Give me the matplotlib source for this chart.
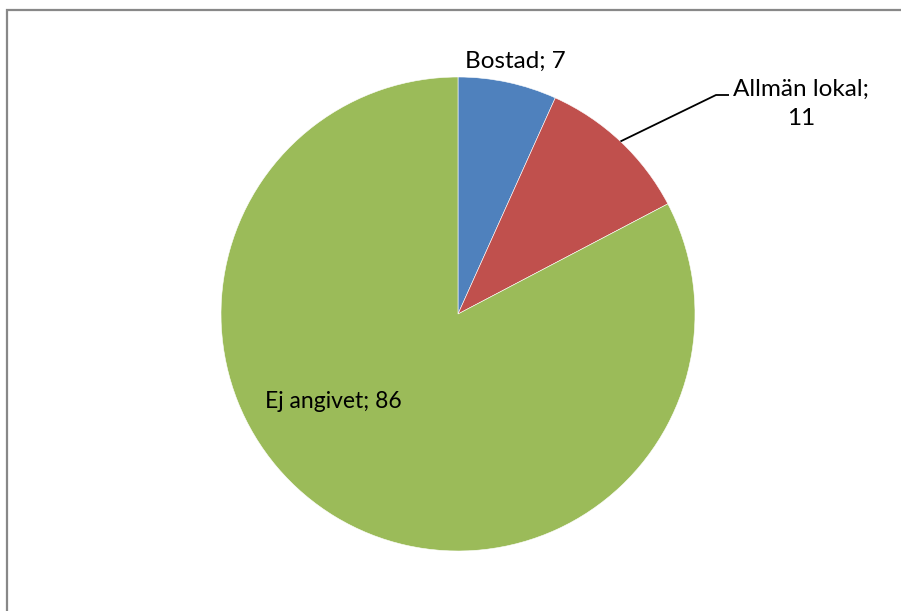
import matplotlib
import matplotlib.pyplot as plt
import numpy as np

matplotlib.use("Agg")

categories = ["Bostad", "Allmän lokal", "Ej angivet"]
values = [7, 11, 86]
colors = ["#4F81BD", "#C0504D", "#9BBB59"]

W, H = 901, 611
cx, cy, r = 458, H - 314, 237

fig = plt.figure(figsize=(W / 100, H / 100), dpi=100)
ax = fig.add_axes([0, 0, 1, 1])

wedges, _ = ax.pie(
    values,
    colors=colors,
    startangle=90,
    counterclock=False,
    center=(cx, cy),
    radius=r,
    wedgeprops={"edgecolor": "white", "linewidth": 0.4},
    frame=True,
)
ax.set_xlim(0, W)
ax.set_ylim(0, H)
ax.set_aspect("equal")
ax.axis("off")

font = {"family": ["Lato", "DejaVu Sans"], "fontsize": 17.5, "color": "black"}

ax.text(515, H - 61, f"{categories[0]}; {values[0]}", ha="center", va="center", **font)
ax.text(801, H - 104, f"{categories[1]};\n{values[1]}", ha="center", va="center",
        linespacing=1.5, **font)
ax.text(333, H - 402, f"{categories[2]}; {values[2]}", ha="center", va="center",
        family=["Lato", "DejaVu Sans"], fontsize=16.5, color="black")

# leader line for the red slice
w = wedges[1]
mid = np.deg2rad((w.theta1 + w.theta2) / 2)
x0, y0 = cx + r * np.cos(mid), cy + r * np.sin(mid)
ax.plot([x0, 716, 729], [y0, H - 95, H - 95], color="black", lw=1.3,
        solid_capstyle="butt")

# chart-area border (extends beyond the right and bottom edge)
ax.plot([7, 7, W + 5], [-5, H - 10, H - 10], color="#888888", lw=1.6,
        solid_joinstyle="miter")

fig.savefig("out.png", dpi=100)
